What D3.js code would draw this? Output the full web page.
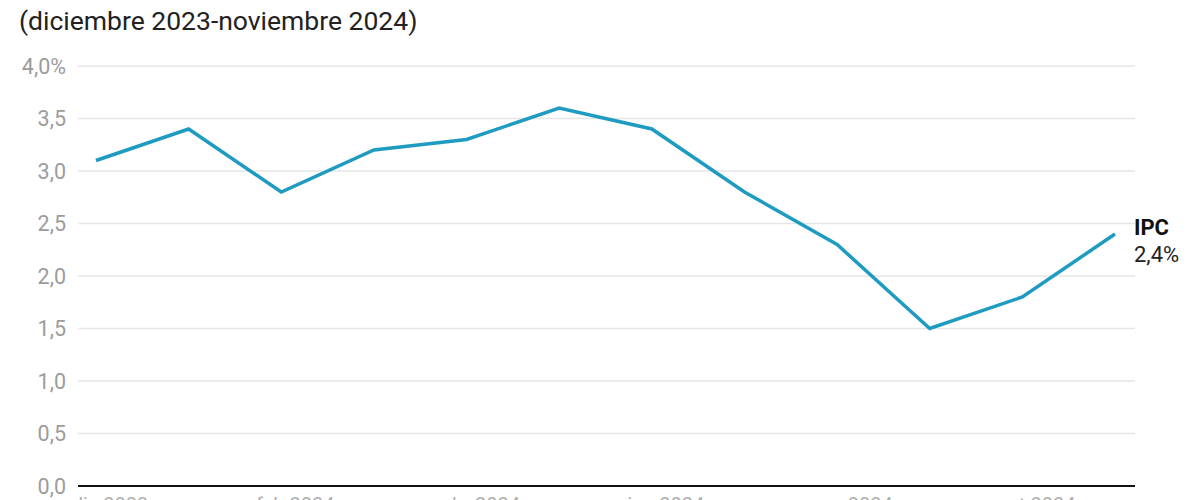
<!DOCTYPE html>
<html>
<head>
  <meta charset="utf-8">
  <title>IPC</title>
  <script src="https://cdn.jsdelivr.net/npm/d3@7"></script>
  <style>
    body { margin: 0; background: #fff; font-family: Roboto, "Noto Sans", sans-serif; }
  </style>
</head>
<body>
<svg id="chart" width="1200" height="500"></svg>
<script>
  const months = ["dic 2023", "ene 2024", "feb 2024", "mar 2024", "abr 2024", "may 2024",
                  "jun 2024", "jul 2024", "ago 2024", "sep 2024", "oct 2024", "nov 2024"];
  const ipc = [3.1, 3.4, 2.8, 3.2, 3.3, 3.6, 3.4, 2.8, 2.3, 1.5, 1.8, 2.4];
  const yTicks = [0, 0.5, 1, 1.5, 2, 2.5, 3, 3.5, 4];
  const xLabels = ["dic 2023", "feb 2024", "abr 2024", "jun 2024", "ago 2024", "oct 2024"];

  const svg = d3.select('#chart');
  const fmt = v => d3.format('.1f')(v).replace('.', ',');

  svg.append('text')
    .attr('x', 19).attr('y', 30)
    .attr('font-size', 26.5).attr('fill', '#222')
    .text('(diciembre 2023-noviembre 2024)');

  const x = d3.scalePoint().domain(months).range([96, 1115]);
  const y = d3.scaleLinear().domain([0, 4]).range([486, 66]);

  // grid lines
  svg.append('g')
    .selectAll('line')
    .data(yTicks.filter(d => d > 0))
    .join('line')
    .attr('x1', 78).attr('x2', 1135)
    .attr('y1', d => y(d)).attr('y2', d => y(d))
    .attr('stroke', '#e6e6e6').attr('stroke-width', 1.5);

  // y labels
  svg.append('g')
    .selectAll('text')
    .data(yTicks)
    .join('text')
    .attr('x', 66).attr('y', d => y(d))
    .attr('dy', '0.35em')
    .attr('text-anchor', 'end')
    .attr('font-size', 21.5).attr('fill', '#9c9c9c')
    .text(d => d === 4 ? fmt(d) + '%' : fmt(d));

  // baseline
  svg.append('line')
    .attr('x1', 78).attr('x2', 1135)
    .attr('y1', y(0)).attr('y2', y(0))
    .attr('stroke', '#111').attr('stroke-width', 2);

  // x labels (mostly cut off by the frame, as in the source)
  svg.append('g')
    .selectAll('text')
    .data(xLabels)
    .join('text')
    .attr('x', d => x(d) + 14)
    .attr('y', 512)
    .attr('text-anchor', 'middle')
    .attr('font-size', 20).attr('fill', '#b0b0b0')
    .text(d => d);

  const line = d3.line()
    .x((d, i) => x(months[i]))
    .y(d => y(d));

  svg.append('path')
    .datum(ipc)
    .attr('d', line)
    .attr('fill', 'none')
    .attr('stroke', '#1f9bc2')
    .attr('stroke-width', 3.5)
    .attr('stroke-linejoin', 'miter');

  const last = ipc[ipc.length - 1];
  svg.append('text')
    .attr('x', 1134).attr('y', y(last) + 1)
    .attr('font-size', 22).attr('font-weight', 'bold').attr('fill', '#111')
    .text('IPC');
  svg.append('text')
    .attr('x', 1134).attr('y', y(last) + 28)
    .attr('font-size', 22).attr('fill', '#222')
    .text(fmt(last) + '%');
</script>
</body>
</html>
